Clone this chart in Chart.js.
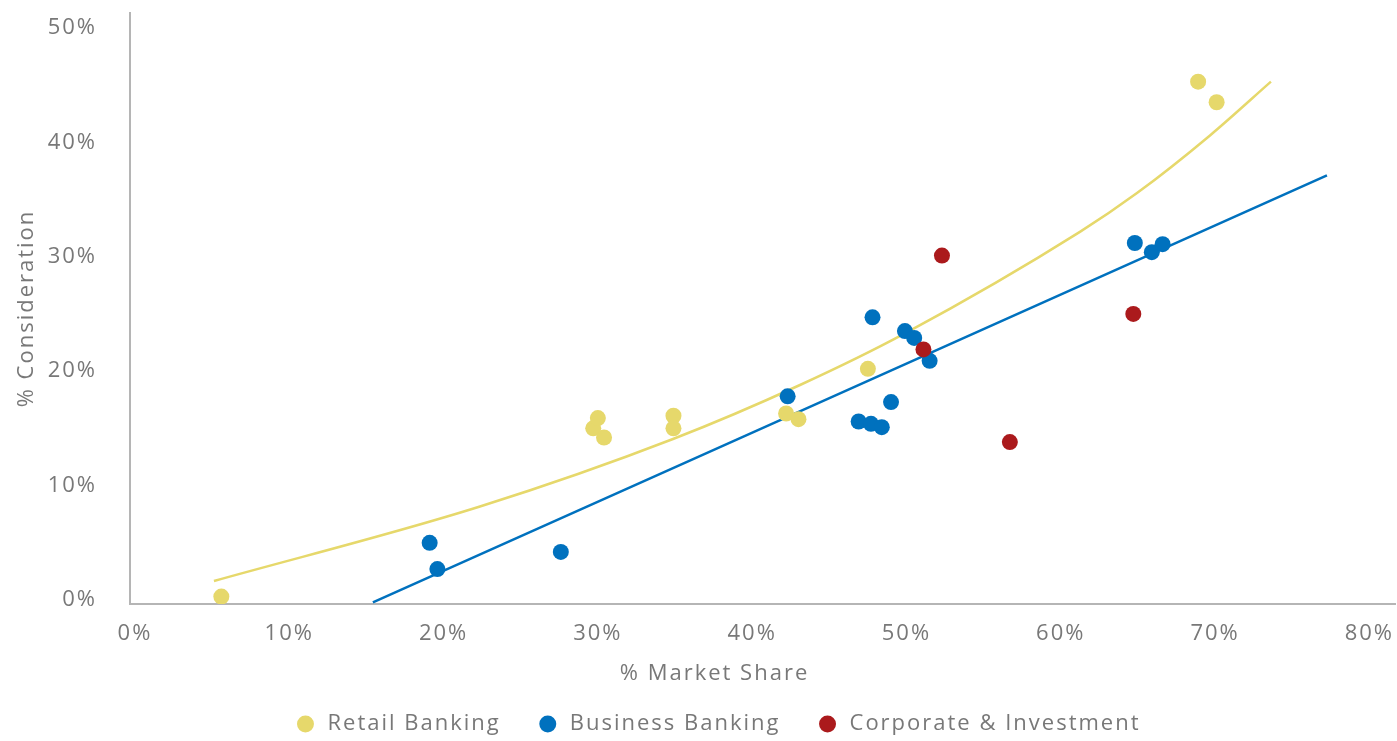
<!DOCTYPE html>
<html>
<head>
<meta charset="utf-8">
<script src="https://cdn.jsdelivr.net/npm/chart.js@4.4.1/dist/chart.umd.min.js"></script>
<style>
  html, body { margin: 0; padding: 0; background: #ffffff; overflow: hidden; }
  #chart { display: block; }
</style>
</head>
<body>
<canvas id="chart" width="1397" height="741" style="width:1397px;height:741px;"></canvas>
<script>
// ---- data ----
const seriesNames = ['Retail Banking', 'Business Banking', 'Corporate & Investment'];

const retailX = [5.6, 29.7, 30.0, 30.4, 34.9, 34.9, 42.2, 43.0, 47.5, 68.9, 70.1];
const retailY = [0.3, 15.0, 15.9, 14.2, 16.1, 15.0, 16.3, 15.8, 20.2, 45.3, 43.5];

const businessX = [19.1, 19.6, 27.6, 42.3, 47.8, 49.9, 50.5, 51.5, 49.0, 46.9, 47.7, 48.4, 64.8, 65.9, 66.6];
const businessY = [5.0, 2.7, 4.2, 17.8, 24.7, 23.5, 22.9, 20.9, 17.3, 15.6, 15.4, 15.1, 31.2, 30.4, 31.1];

const corporateX = [52.3, 51.1, 56.7, 64.7];
const corporateY = [30.1, 21.9, 13.8, 25.0];

// trend lines
const retailTrendX = [5.12, 22.36, 34.87, 43.10, 49.90, 61.24, 64.94, 69.67, 73.62];
const retailTrendY = [1.66, 8.17, 14.07, 18.79, 23.3, 32.17, 35.56, 40.6, 45.3];
const businessTrendX = [15.42, 77.25];
const businessTrendY = [-0.2, 37.1];

const xTickValues = [0, 10, 20, 30, 40, 50, 60, 70, 80];
const yTickValues = [0, 10, 20, 30, 40, 50];

const xTitle = '% Market Share';
const yTitle = '% Consideration';

// ---- styles ----
const cYellow = '#E6D86B';
const cBlue = '#0071BE';
const cRed = '#AB1A1C';
const textColor = '#787878';
const axisColor = '#b5b5b5';
const fontFamily = '"Open Sans", "Noto Sans", sans-serif';
const letterSpacing = '2px';

const zip = (xs, ys) => xs.map((x, i) => ({ x: x, y: ys[i] }));

Chart.defaults.font.family = fontFamily;
Chart.defaults.font.size = 22;
Chart.defaults.color = textColor;

const pointDs = (label, xs, ys, color, order) => ({
  label: label,
  data: zip(xs, ys),
  backgroundColor: color,
  borderColor: color,
  borderWidth: 0,
  pointRadius: 8,
  pointHoverRadius: 8,
  pointStyle: 'circle',
  order: order
});

const trendDs = (xs, ys, color, order) => ({
  label: 'trend',
  data: zip(xs, ys),
  showLine: true,
  borderColor: color,
  backgroundColor: color,
  borderWidth: 2.5,
  pointRadius: 0,
  pointHoverRadius: 0,
  fill: false,
  cubicInterpolationMode: 'monotone',
  order: order
});

const spacingPlugin = {
  id: 'spacingPlugin',
  beforeUpdate(chart) { chart.ctx.letterSpacing = letterSpacing; },
  beforeDraw(chart) { chart.ctx.letterSpacing = letterSpacing; }
};

const xTitlePlugin = {
  id: 'xTitlePlugin',
  afterDraw(chart) {
    const ctx = chart.ctx;
    const area = chart.chartArea;
    ctx.save();
    ctx.fillStyle = textColor;
    ctx.font = '22px ' + fontFamily;
    ctx.letterSpacing = letterSpacing;
    ctx.textAlign = 'center';
    ctx.textBaseline = 'middle';
    ctx.fillText(xTitle, (area.left + area.right) / 2 - 48, area.bottom + 70);
    ctx.restore();
  }
};

const legendShiftPlugin = {
  id: 'legendShift',
  afterLayout(chart) {
    if (chart.legend) { chart.legend.left += 40; }
  }
};

new Chart(document.getElementById('chart'), {
  type: 'scatter',
  data: {
    datasets: [
      pointDs(seriesNames[0], retailX, retailY, cYellow, 2),
      pointDs(seriesNames[1], businessX, businessY, cBlue, 1),
      pointDs(seriesNames[2], corporateX, corporateY, cRed, 0),
      trendDs(retailTrendX, retailTrendY, cYellow, 3),
      trendDs(businessTrendX, businessTrendY, cBlue, 4)
    ]
  },
  options: {
    responsive: false,
    maintainAspectRatio: false,
    devicePixelRatio: 1,
    animation: false,
    layout: { autoPadding: false, padding: { top: 13, right: 2, bottom: -4, left: 0 } },
    plugins: {
      tooltip: { enabled: false },
      legend: {
        position: 'bottom',
        labels: {
          usePointStyle: true,
          boxWidth: 22,
          boxHeight: 12,
          padding: 36,
          color: textColor,
          font: { size: 22 },
          filter: (item) => item.datasetIndex < 3,
          sort: (a, b) => a.datasetIndex - b.datasetIndex
        }
      }
    },
    scales: {
      x: {
        type: 'linear',
        min: -0.32,
        max: 81.66,
        grid: { display: false, drawTicks: true, tickLength: 17 },
        border: { display: true, color: axisColor, width: 2 },
        ticks: {
          padding: 0,
          autoSkip: false,
          maxRotation: 0,
          color: textColor,
          callback: (v) => v + '%'
        },
        afterBuildTicks: (scale) => { scale.ticks = xTickValues.map(v => ({ value: v })); },
        afterFit: (scale) => {
          scale.height = 73;
          scale.paddingLeft = 0;
          scale.paddingRight = 0;
        }
      },
      y: {
        type: 'linear',
        min: -0.35,
        max: 51.3,
        grid: { display: false, drawTicks: false },
        border: { display: true, color: axisColor, width: 2 },
        title: { display: true, text: yTitle, color: textColor, font: { size: 22 }, padding: { top: 14, bottom: 0 } },
        ticks: {
          padding: 33,
          autoSkip: false,
          color: textColor,
          callback: (v) => v + '%'
        },
        afterBuildTicks: (scale) => { scale.ticks = yTickValues.map(v => ({ value: v })); },
        afterFit: (scale) => {
          scale.width = 130;
          scale.paddingTop = 0;
          scale.paddingBottom = 0;
        }
      }
    }
  },
  plugins: [spacingPlugin, xTitlePlugin, legendShiftPlugin]
});
</script>
</body>
</html>
